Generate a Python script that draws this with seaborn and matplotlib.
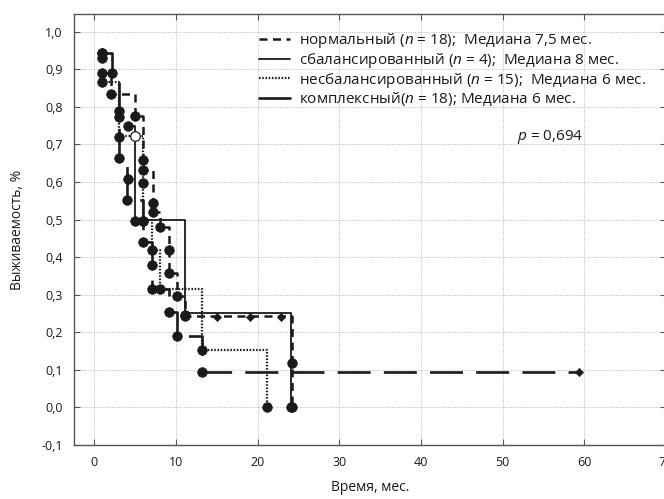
import matplotlib
matplotlib.use("Agg")
import numpy as np
import pandas as pd
import seaborn as sns
import matplotlib.pyplot as plt
from matplotlib.lines import Line2D

# ---------------- data ----------------
# Kaplan-Meier step curves: step times and survival after each step
norm_t = [0.9, 2.0, 5.0, 6.0, 7.2, 8.06, 9.1, 10.1, 11.1, 24.2]
norm_s = [0.889, 0.833, 0.776, 0.632, 0.52, 0.481, 0.359, 0.297, 0.242, 0.0]
norm_events_t = [0.9, 0.9, 2.0, 5.0, 6.0, 7.2, 7.2, 8.06, 9.1, 9.1, 10.1, 11.1, 24.2, 24.2]
norm_events_s = [0.944, 0.889, 0.833, 0.776, 0.632, 0.545, 0.52, 0.481, 0.42, 0.359, 0.297, 0.242, 0.118, 0.0]
norm_cens_t = [15.0, 19.0, 22.8]
norm_cens_s = [0.24, 0.24, 0.24]

bal_t = [4.1, 5.0, 11.1, 24.1]
bal_s = [0.749, 0.5, 0.25, 0.0]
bal_events_t = [4.1, 5.0, 11.1, 24.1]
bal_events_s = [0.749, 0.497, 0.247, 0.0]

unbal_t = [0.9, 2.95, 6.0, 7.0, 8.06, 13.2, 21.15]
unbal_s = [0.867, 0.722, 0.5, 0.418, 0.315, 0.153, 0.0]
unbal_events_t = [0.9, 0.9, 2.95, 6.0, 6.0, 6.0, 7.0, 8.06, 13.2, 21.15]
unbal_events_s = [0.929, 0.867, 0.79, 0.659, 0.598, 0.497, 0.418, 0.315, 0.153, 0.0]
unbal_open_t = [5.0]
unbal_open_s = [0.722]

comp_t = [0.9, 2.13, 2.95, 4.05, 6.0, 7.0, 9.1, 10.1, 13.2, 59.3]
comp_s = [0.944, 0.889, 0.665, 0.552, 0.441, 0.315, 0.253, 0.189, 0.093, 0.093]
comp_events_t = [0.9, 2.13, 2.95, 2.95, 2.95, 4.1, 4.05, 6.0, 6.0, 7.0, 7.0, 9.1, 10.1, 13.2]
comp_events_s = [0.943, 0.889, 0.774, 0.72, 0.665, 0.607, 0.552, 0.497, 0.441, 0.379, 0.315, 0.253, 0.189, 0.093]
comp_cens_t = [59.3]
comp_cens_s = [0.093]

labels = [
    "нормальный ($n$ = 18);  Медиана 7,5 мес.",
    "сбалансированный ($n$ = 4);  Медиана 8 мес.",
    "несбалансированный ($n$ = 15);  Медиана 6 мес.",
    "комплексный($n$ = 18); Медиана 6 мес.",
]
p_text = "$p$ = 0,694"
x_ticks = [0, 10, 20, 30, 40, 50, 60, 70]
y_ticks = [-0.1, 0.0, 0.1, 0.2, 0.3, 0.4, 0.5, 0.6, 0.7, 0.8, 0.9, 1.0]
x_label = "Время, мес."
y_label = "Выживаемость, %"

# ---------------- style ----------------
sns.set_theme(style="ticks")
plt.rcParams['font.family'] = ['Open Sans', 'DejaVu Sans']
plt.rcParams['mathtext.fontset'] = 'custom'
plt.rcParams['mathtext.it'] = 'Open Sans:italic'
plt.rcParams['mathtext.rm'] = 'Open Sans'

fig = plt.figure(figsize=(6.64, 4.99), dpi=100)
ax = fig.add_axes([74 / 664, 1 - 445 / 499, 592 / 664, (445 - 14) / 499])

ink = "#1a1a1a"

def steps(t, s):
    return pd.DataFrame({"t": t, "s": s})

styles = {
    "norm": dict(linestyle=(0, (3.2, 2.2)), linewidth=1.8),
    "bal": dict(linestyle="-", linewidth=1.3),
    "unbal": dict(linestyle=(0, (0.7, 0.75)), linewidth=1.6),
    "comp": dict(linestyle=(0, (12.5, 5)), linewidth=1.9),
}

series = [
    ("norm", norm_t, norm_s),
    ("bal", bal_t, bal_s),
    ("unbal", unbal_t, unbal_s),
    ("comp", comp_t, comp_s),
]
for key, t, s in series:
    sns.lineplot(data=steps(t, s), x="t", y="s", ax=ax, color=ink,
                 estimator=None, sort=False, drawstyle="steps-post",
                 **styles[key])

ev = pd.DataFrame({
    "t": norm_events_t + bal_events_t + unbal_events_t + comp_events_t,
    "s": norm_events_s + bal_events_s + unbal_events_s + comp_events_s,
})
sns.scatterplot(data=ev, x="t", y="s", ax=ax, color=ink, s=48,
                edgecolor=ink, linewidth=0.5, zorder=5)
op = pd.DataFrame({"t": unbal_open_t, "s": unbal_open_s})
sns.scatterplot(data=op, x="t", y="s", ax=ax, color="white", s=48,
                edgecolor=ink, linewidth=0.9, zorder=6)
ce = pd.DataFrame({"t": norm_cens_t + comp_cens_t, "s": norm_cens_s + comp_cens_s})
sns.scatterplot(data=ce, x="t", y="s", ax=ax, color=ink, s=18, marker="D",
                edgecolor=ink, linewidth=0.4, zorder=5)

ax.set_xlim(-2.5, 70)
ax.set_ylim(-0.1, 1.047)
ax.set_xticks(x_ticks)
ax.set_yticks(y_ticks)
ax.set_xticklabels([str(v) for v in x_ticks])
ax.set_yticklabels([f"{v:.1f}".replace(".", ",") for v in y_ticks])
ax.tick_params(direction="in", length=4, width=0.8, color="#555555",
               labelsize=9, labelcolor=ink, top=True, right=True, pad=8)
ax.grid(True, color="#c4c4c4", linestyle=(0, (1.2, 1.2)), linewidth=0.7)
for sp in ax.spines.values():
    sp.set_color("#555555")
    sp.set_linewidth(1.0)
ax.set_xlabel(x_label, fontsize=10, color=ink, labelpad=8)
ax.set_ylabel(y_label, fontsize=10, color=ink, labelpad=12)

handles = [
    Line2D([], [], color=ink, **styles["norm"]),
    Line2D([], [], color=ink, **styles["bal"]),
    Line2D([], [], color=ink, **styles["unbal"]),
    Line2D([], [], color=ink, linestyle="-", linewidth=1.9),
]
leg = ax.legend(handles, labels, loc="upper left",
                bbox_to_anchor=(250 / 664, 1 - 22 / 499),
                bbox_transform=fig.transFigure, frameon=False,
                fontsize=11, handlelength=2.0, handletextpad=0.6,
                labelspacing=0.05, borderpad=0.1)
for txt in leg.get_texts():
    txt.set_color(ink)

fig.text(583 / 664, 1 - 137 / 499, p_text, ha="right", va="center",
         fontsize=11, color=ink)

fig.savefig("out.png", dpi=100)
